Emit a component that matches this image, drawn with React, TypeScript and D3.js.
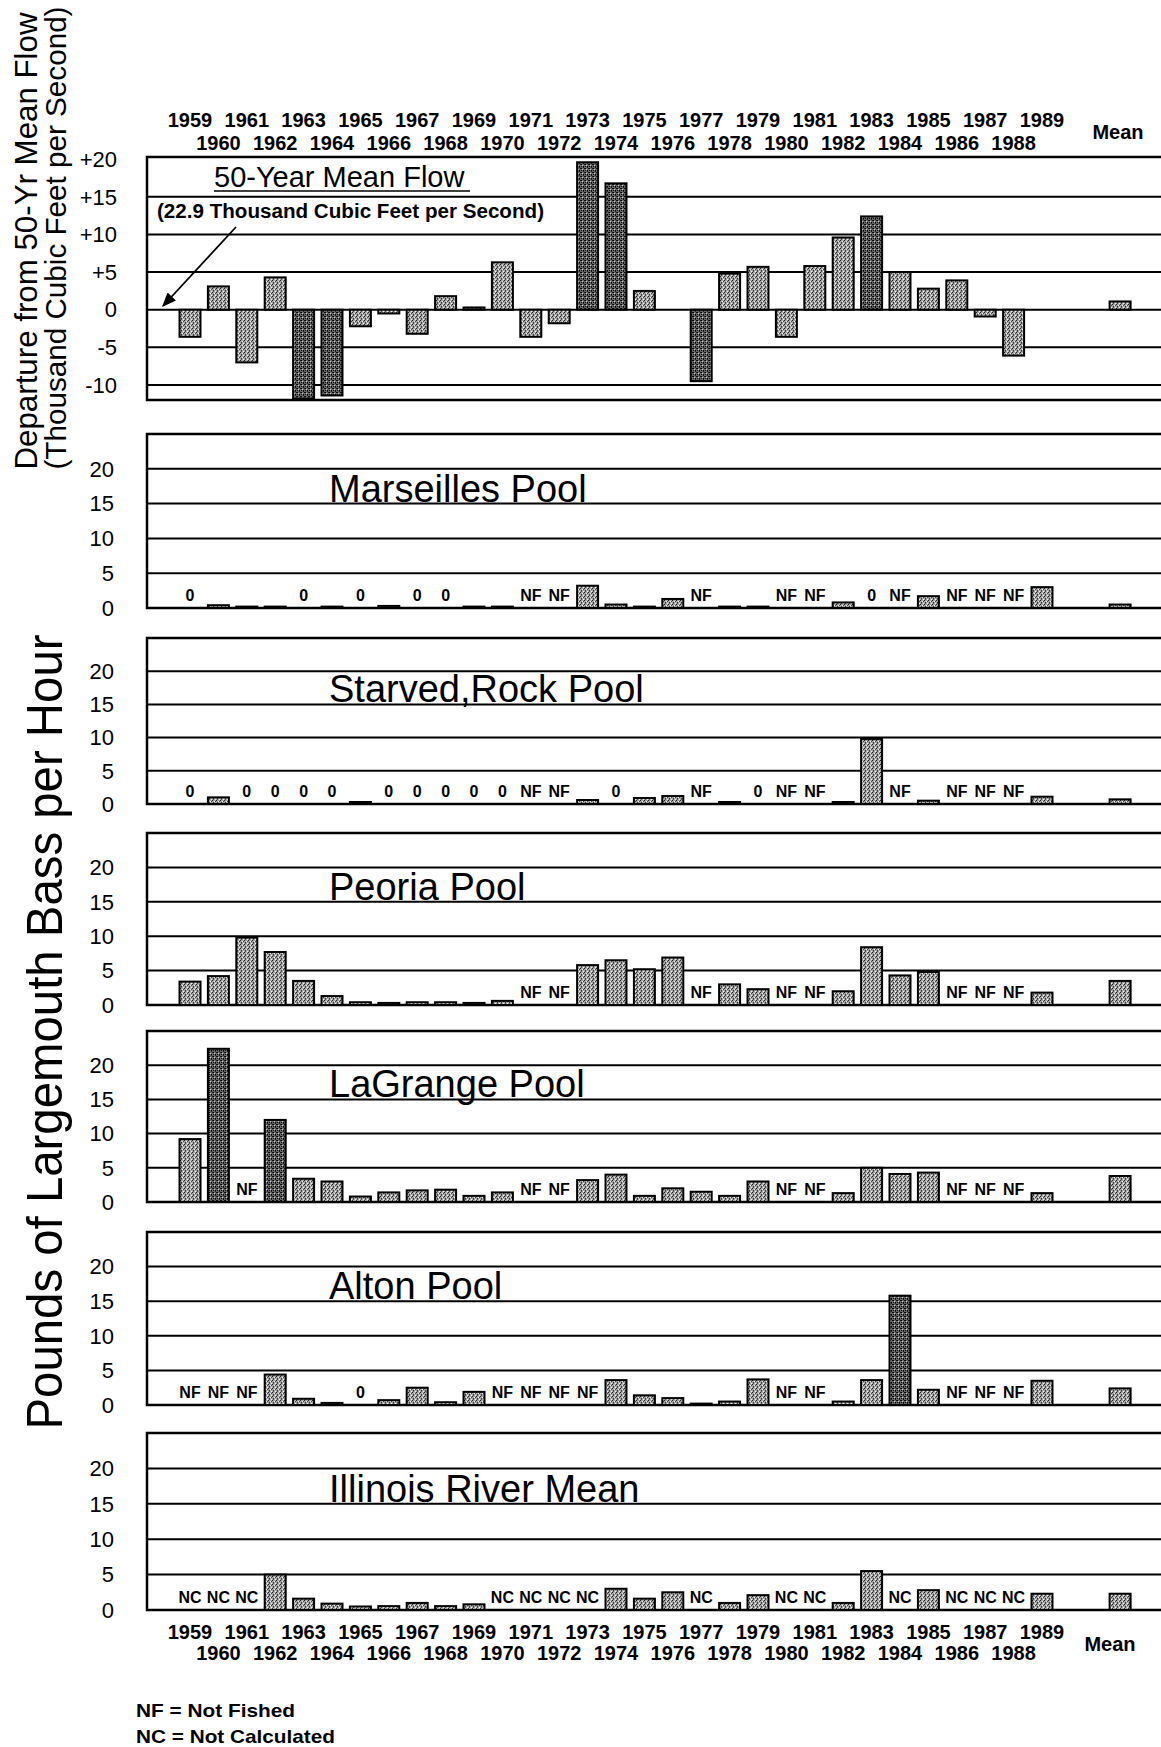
import * as d3 from 'd3'
import { useEffect, useRef } from 'react'

const W = 1161, H = 1747

const years = [
  1959, 1960, 1961, 1962, 1963, 1964, 1965, 1966, 1967, 1968, 1969,
  1970, 1971, 1972, 1973, 1974, 1975, 1976, 1977, 1978, 1979,
  1980, 1981, 1982, 1983, 1984, 1985, 1986, 1987, 1988, 1989,
]

// departure from 50-yr mean flow, thousand cfs
const flowDeparture = [
  -3.6, 3.1, -7.0, 4.3, -11.8, -11.4, -2.2, -0.5, -3.2, 1.8, 0.3,
  6.3, -3.6, -1.8, 19.6, 16.8, 2.5, 0, -9.5, 4.8, 5.7,
  -3.6, 5.8, 9.6, 12.4, 5.0, 2.8, 3.9, -0.9, -6.1, 0,
]
const flowMeanDeparture = 1.1

// pounds of largemouth bass per hour; null = not fished / not calculated, 0 = "0"
const marseilles = [
  0, 0.4, 0.2, 0.2, 0, 0.2, 0, 0.3, 0, 0, 0.2,
  0.2, null, null, 3.2, 0.5, 0.2, 1.3, null, 0.2, 0.2,
  null, null, 0.8, 0, null, 1.7, null, null, null, 3.0,
]
const starvedRock = [
  0, 1.0, 0, 0, 0, 0, 0.3, 0, 0, 0, 0,
  0, null, null, 0.6, 0, 0.9, 1.2, null, 0.3, 0,
  null, null, 0.3, 9.8, null, 0.5, null, null, null, 1.1,
]
const peoria = [
  3.4, 4.2, 9.8, 7.7, 3.5, 1.3, 0.4, 0.3, 0.4, 0.4, 0.3,
  0.6, null, null, 5.8, 6.5, 5.2, 6.9, null, 3.0, 2.3,
  null, null, 2.0, 8.4, 4.3, 4.8, null, null, null, 1.8,
]
const laGrange = [
  9.2, 22.4, null, 12.0, 3.4, 3.0, 0.8, 1.4, 1.7, 1.8, 0.9,
  1.4, null, null, 3.2, 4.0, 0.9, 2.0, 1.5, 0.9, 3.0,
  null, null, 1.3, 5.0, 4.1, 4.3, null, null, null, 1.3,
]
const alton = [
  null, null, null, 4.4, 0.9, 0.3, 0, 0.7, 2.5, 0.4, 1.9,
  null, null, null, null, 3.6, 1.4, 1.0, 0.2, 0.5, 3.7,
  null, null, 0.5, 3.6, 15.8, 2.2, null, null, null, 3.5,
]
const riverMean = [
  null, null, null, 5.0, 1.6, 0.9, 0.5, 0.55, 1.0, 0.55, 0.8,
  null, null, null, null, 3.0, 1.6, 2.5, null, 1.0, 2.1,
  null, null, 1.0, 5.5, null, 2.8, null, null, null, 2.3,
]
const poolMeans = [0.5, 0.7, 3.5, 3.8, 2.4, 2.3]
const poolNames = ['Marseilles Pool', 'Starved,Rock Pool', 'Peoria Pool', 'LaGrange Pool', 'Alton Pool', 'Illinois River Mean']
const missingCodes = ['NF', 'NF', 'NF', 'NF', 'NF', 'NC']
const poolSeries = [marseilles, starvedRock, peoria, laGrange, alton, riverMean]

const flowTicks = [20, 15, 10, 5, 0, -5, -10]
const flowTickLabels = ['+20', '+15', '+10', '+5', '0', '-5', '-10']
const poolTicks = [20, 15, 10, 5, 0]

// panel frames: [top, zero line]
const panelBox = [[434, 608], [638, 804], [833, 1005], [1031, 1202], [1232, 1405], [1433, 1610]]

const font = '"Liberation Sans", Arial, Helvetica, sans-serif'
const left = 147, right = W
const barW = 21
const meanSlot = 32.75
const x = d3.scaleLinear().domain([0, 30]).range([190, 1042])

const chart = (node) => {
  const svg = d3.select(node)
  svg.selectAll('*').remove()
  svg.attr('font-family', font)

  const defs = svg.append('defs')
  const stipple = (id, base, dots) => {
    const p = defs.append('pattern')
      .attr('id', id).attr('width', 4).attr('height', 4)
      .attr('patternUnits', 'userSpaceOnUse')
    p.append('rect').attr('width', 4).attr('height', 4).attr('fill', base)
    dots.forEach(([dx, dy, c]) => p.append('rect')
      .attr('x', dx).attr('y', dy).attr('width', 1).attr('height', 1).attr('fill', c))
  }
  stipple('light', '#a6a6a6', [[0, 0, '#222'], [2, 1, '#f4f4f4'], [1, 2, '#333'], [3, 3, '#f4f4f4'], [3, 1, '#444'], [1, 3, '#555']])
  stipple('dark', '#666', [[0, 0, '#111'], [2, 1, '#ccc'], [1, 2, '#111'], [3, 3, '#222'], [1, 0, '#000'], [3, 2, '#000']])

  const fillFor = v => (v >= 10 || v <= -9) ? 'url(#dark)' : 'url(#light)'

  // ---- flow panel
  const yF = d3.scaleLinear().domain([-12, 20.3]).range([400, 157])
  const top = svg.append('g')

  top.selectAll('line')
    .data([15, 10, 5, 0, -5, -10])
    .join('line')
      .attr('x1', left).attr('x2', right)
      .attr('y1', d => yF(d)).attr('y2', d => yF(d))
      .attr('stroke', '#000').attr('stroke-width', 2)

  top.append('path')
    .attr('d', `M${right},${yF(20.3)}H${left}V${yF(-12)}H${right}`)
    .attr('fill', 'none').attr('stroke', '#000').attr('stroke-width', 2.5)

  const flowRows = years.map((yr, i) => ({ slot: i, v: flowDeparture[i] }))
    .concat({ slot: meanSlot, v: flowMeanDeparture })

  top.selectAll('rect')
    .data(flowRows.filter(d => d.v !== 0))
    .join('rect')
      .attr('x', d => x(d.slot) - barW / 2)
      .attr('width', barW)
      .attr('y', d => yF(Math.max(0, d.v)))
      .attr('height', d => Math.abs(yF(d.v) - yF(0)))
      .attr('fill', d => fillFor(d.v))
      .attr('stroke', '#000').attr('stroke-width', 2)

  top.selectAll('text.tick')
    .data(flowTicks)
    .join('text')
      .attr('class', 'tick')
      .attr('x', 117).attr('y', d => yF(d)).attr('dy', '0.35em')
      .attr('text-anchor', 'end').attr('font-size', 22)
      .text((d, i) => flowTickLabels[i])

  top.append('text')
    .attr('x', 214).attr('y', 187).attr('font-size', 29)
    .text('50-Year Mean Flow')
  top.append('line')
    .attr('x1', 214).attr('x2', 470).attr('y1', 191).attr('y2', 191)
    .attr('stroke', '#000').attr('stroke-width', 1.5)
  top.append('text')
    .attr('x', 157).attr('y', 218).attr('font-size', 20).attr('font-weight', 'bold')
    .attr('textLength', 387).attr('lengthAdjust', 'spacingAndGlyphs')
    .text('(22.9 Thousand Cubic Feet per Second)')

  defs.append('marker')
    .attr('id', 'arrow').attr('viewBox', '0 0 10 10')
    .attr('refX', 9).attr('refY', 5)
    .attr('markerWidth', 8).attr('markerHeight', 8)
    .attr('orient', 'auto')
  .append('path').attr('d', 'M0,1L10,5L0,9z').attr('fill', '#000')
  top.append('line')
    .attr('x1', 236).attr('y1', 227).attr('x2', 163).attr('y2', 306)
    .attr('stroke', '#000').attr('stroke-width', 1.8)
    .attr('marker-end', 'url(#arrow)')

  // year labels above
  const yearLabels = (g, yOdd, yEven) => {
    g.selectAll('text.yr')
      .data(years)
      .join('text')
        .attr('class', 'yr')
        .attr('x', (d, i) => x(i))
        .attr('y', d => d % 2 ? yOdd : yEven)
        .attr('text-anchor', 'middle')
        .attr('font-size', 20).attr('font-weight', 'bold')
        .text(d => d)
  }
  yearLabels(svg.append('g'), 127, 150)
  svg.append('text')
    .attr('x', 1118).attr('y', 139).attr('text-anchor', 'middle')
    .attr('font-size', 20).attr('font-weight', 'bold').text('Mean')

  // ---- pool panels
  poolSeries.forEach((series, p) => {
    const [pTop, pZero] = panelBox[p]
    const y = d3.scaleLinear().domain([0, 25]).range([pZero, pTop])
    const g = svg.append('g')

    g.selectAll('line')
      .data([5, 10, 15, 20])
      .join('line')
        .attr('x1', left).attr('x2', right)
        .attr('y1', d => y(d)).attr('y2', d => y(d))
        .attr('stroke', '#000').attr('stroke-width', 2)

    g.append('path')
      .attr('d', `M${right},${y(25)}H${left}V${y(0)}H${right}`)
      .attr('fill', 'none').attr('stroke', '#000').attr('stroke-width', 2.5)

    g.append('text')
      .attr('x', 329).attr('y', y(15) - 2)
      .attr('font-size', 38)
      .text(poolNames[p])

    const rows = series.map((v, i) => ({ slot: i, v }))
      .concat({ slot: meanSlot, v: poolMeans[p] })

    g.selectAll('rect')
      .data(rows.filter(d => d.v !== null && d.v > 0))
      .join('rect')
        .attr('x', d => x(d.slot) - barW / 2)
        .attr('width', barW)
        .attr('y', d => y(d.v))
        .attr('height', d => y(0) - y(d.v))
        .attr('fill', d => fillFor(d.v))
        .attr('stroke', '#000').attr('stroke-width', 2)

    g.selectAll('text.code')
      .data(rows.filter(d => d.v === null || d.v === 0))
      .join('text')
        .attr('class', 'code')
        .attr('x', d => x(d.slot)).attr('y', y(0) - 7)
        .attr('text-anchor', 'middle')
        .attr('font-size', 16).attr('font-weight', 'bold')
        .text(d => d.v === null ? missingCodes[p] : '0')

    g.selectAll('text.tick')
      .data(poolTicks)
      .join('text')
        .attr('class', 'tick')
        .attr('x', 114).attr('y', d => y(d)).attr('dy', '0.35em')
        .attr('text-anchor', 'end').attr('font-size', 22)
        .text(d => d)
  })

  yearLabels(svg.append('g'), 1639, 1660)
  svg.append('text')
    .attr('x', 1110).attr('y', 1651).attr('text-anchor', 'middle')
    .attr('font-size', 20).attr('font-weight', 'bold').text('Mean')

  // ---- axis titles
  svg.append('text')
    .attr('transform', 'translate(37,241) rotate(-90)')
    .attr('text-anchor', 'middle').attr('font-size', 31)
    .attr('textLength', 457).attr('lengthAdjust', 'spacingAndGlyphs')
    .text('Departure from 50-Yr Mean Flow')
  svg.append('text')
    .attr('transform', 'translate(66,238) rotate(-90)')
    .attr('text-anchor', 'middle').attr('font-size', 30)
    .attr('textLength', 463).attr('lengthAdjust', 'spacingAndGlyphs')
    .text('(Thousand Cubic Feet per Second)')
  svg.append('text')
    .attr('transform', 'translate(62,1032) rotate(-90)')
    .attr('text-anchor', 'middle').attr('font-size', 50)
    .attr('textLength', 795).attr('lengthAdjust', 'spacingAndGlyphs')
    .text('Pounds of Largemouth Bass per Hour')

  // ---- legend
  svg.append('text')
    .attr('x', 136).attr('y', 1717).attr('font-size', 19).attr('font-weight', 'bold')
    .attr('textLength', 159).attr('lengthAdjust', 'spacingAndGlyphs')
    .text('NF = Not Fished')
  svg.append('text')
    .attr('x', 136).attr('y', 1743).attr('font-size', 19).attr('font-weight', 'bold')
    .attr('textLength', 199).attr('lengthAdjust', 'spacingAndGlyphs')
    .text('NC = Not Calculated')
}

export default function App() {
  const ref = useRef(null)
  useEffect(() => {
    if (ref.current) chart(ref.current)
  }, [])
  return (
    <svg
      ref={ref}
      width={W}
      height={H}
      style={{ position: 'absolute', left: 0, top: 0, background: '#fff', display: 'block' }}
    />
  )
}
